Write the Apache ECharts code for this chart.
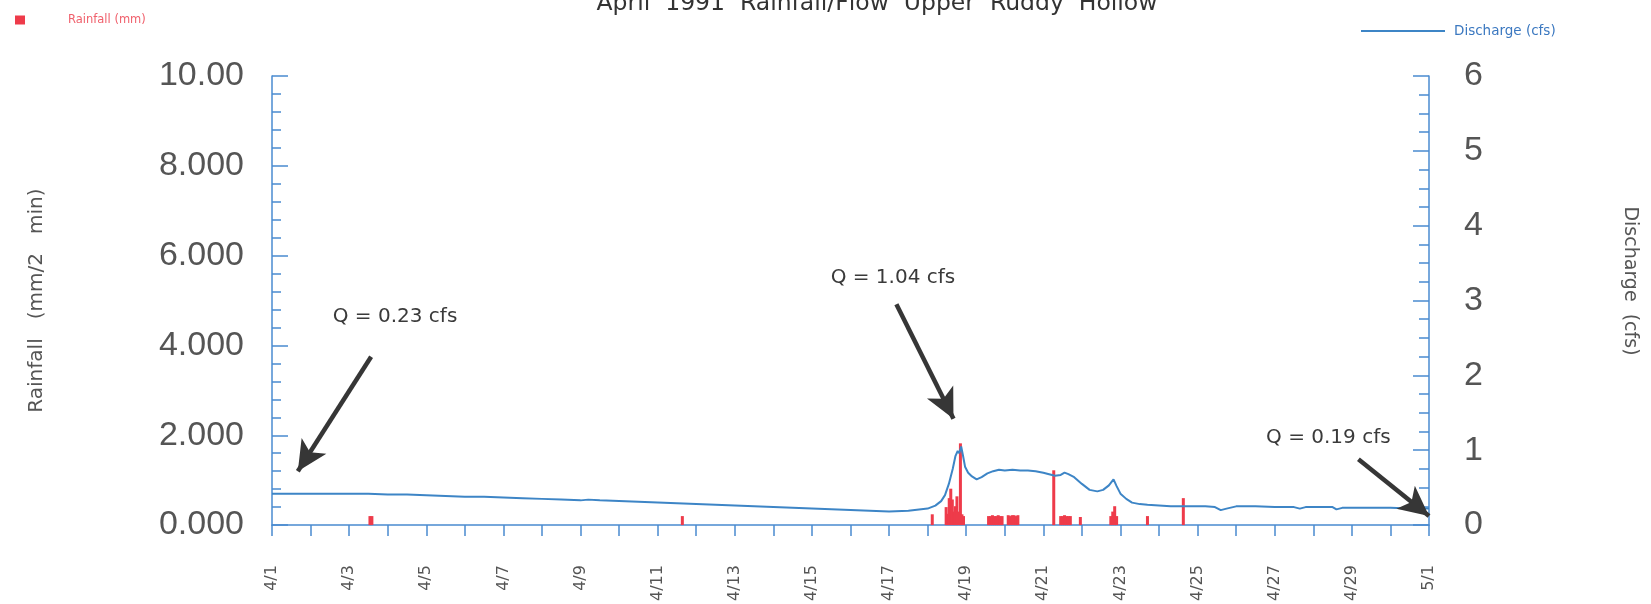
<!DOCTYPE html>
<html>
<head>
<meta charset="utf-8">
<script src="https://cdn.jsdelivr.net/npm/echarts@6/dist/echarts.min.js"></script>
<style>html,body{margin:0;padding:0;background:#fff;}#chart{width:1651px;height:604px;}</style>
</head>
<body>
<div id="chart"></div>
<script>
// ---- data (days after 4/1 00:00) ----
const titleText = 'April  1991  Rainfall/Flow  Upper  Ruddy  Hollow';
const dateLabels = ['4/1','4/3','4/5','4/7','4/9','4/11','4/13','4/15','4/17','4/19','4/21','4/23','4/25','4/27','4/29','5/1'];

const dischargeDays = [0,0.5,1,1.5,2,2.5,3,3.5,4,4.5,5,5.5,6,6.5,7,7.5,8,8.2,8.5,9,9.5,10,10.5,11,11.5,12,12.5,13,13.5,14,14.5,15,15.5,16,16.5,17,17.2,17.35,17.45,17.55,17.65,17.72,17.78,17.82,17.87,17.92,17.97,18.05,18.15,18.27,18.4,18.55,18.7,18.85,19,19.2,19.4,19.6,19.8,20,20.15,20.3,20.45,20.55,20.65,20.8,21,21.2,21.4,21.55,21.7,21.82,21.9,22,22.15,22.3,22.5,22.7,23,23.3,23.6,23.9,24.2,24.45,24.6,24.75,25,25.5,26,26.5,26.65,26.8,27,27.5,27.6,27.75,28,28.5,29,29.5,30];
const dischargeCfs = [0.42,0.42,0.42,0.42,0.42,0.42,0.41,0.41,0.40,0.39,0.38,0.38,0.37,0.36,0.35,0.34,0.33,0.34,0.33,0.32,0.31,0.30,0.29,0.28,0.27,0.26,0.25,0.24,0.23,0.22,0.21,0.20,0.19,0.18,0.19,0.22,0.26,0.32,0.40,0.55,0.75,0.92,0.99,0.96,1.05,0.92,0.78,0.70,0.65,0.61,0.64,0.69,0.72,0.74,0.73,0.74,0.73,0.73,0.72,0.70,0.68,0.66,0.67,0.70,0.68,0.64,0.55,0.47,0.45,0.47,0.53,0.61,0.52,0.42,0.35,0.30,0.28,0.27,0.26,0.25,0.25,0.25,0.25,0.24,0.20,0.22,0.25,0.25,0.24,0.24,0.22,0.24,0.24,0.24,0.21,0.23,0.23,0.23,0.23,0.22,0.22];

const rainDays = [2.54,2.59,10.64,17.12,17.48,17.52,17.56,17.60,17.64,17.68,17.72,17.76,17.80,17.85,17.89,17.93,18.58,18.63,18.68,18.73,18.78,18.83,18.88,18.93,19.09,19.14,19.19,19.24,19.29,19.34,20.27,20.45,20.50,20.55,20.60,20.65,20.70,20.96,21.75,21.80,21.85,21.90,22.70,23.63];
const rainMm = [0.20,0.20,0.20,0.24,0.40,0.25,0.60,0.81,0.57,0.30,0.42,0.64,0.30,1.82,0.24,0.20,0.20,0.20,0.22,0.20,0.20,0.22,0.20,0.20,0.22,0.20,0.22,0.22,0.20,0.22,1.22,0.20,0.20,0.22,0.20,0.20,0.20,0.18,0.20,0.30,0.42,0.20,0.20,0.60];

const noteTexts = ['Q = 0.23 cfs','Q = 1.04 cfs','Q = 0.19 cfs'];
const noteTextAt = [[3.19,2.78],[16.1,3.31],[27.39,1.17]];
const noteArrowFrom = [[2.57,2.25],[16.19,2.95],[28.17,0.88]];
const noteArrowTo = [[0.67,0.72],[17.67,1.42],[30.0,0.12]];

// ---- chart ----
const blue = '#4a8bd0';
const chart = echarts.init(document.getElementById('chart'));
chart.setOption({
  animation: false,
  backgroundColor: '#ffffff',
  title: {
    text: titleText, left: 872, top: -13, textAlign: 'center',
    textStyle: {fontFamily: 'DejaVu Sans', fontSize: 23.5, fontWeight: 'normal', color: '#333'}
  },
  legend: [
    {data: ['Rainfall (mm)'], left: 10, top: 9, itemWidth: 10, itemHeight: 9, icon: 'rect',
     textStyle: {color: '#f0606c', fontSize: 11.5, fontFamily: 'DejaVu Sans', padding: [0,0,0,38]}},
    {data: ['Discharge (cfs)'], left: 1356, top: 19, itemWidth: 84, itemHeight: 2, icon: 'rect',
     textStyle: {color: '#3b78c0', fontSize: 13.5, fontFamily: 'DejaVu Sans', padding: [0,0,0,4]}}
  ],
  grid: {left: 272, right: 222, top: 76, bottom: 72},
  xAxis: {
    type: 'value', min: 0, max: 30, interval: 1,
    axisLine: {show: true, lineStyle: {color: blue, width: 1.5}},
    axisTick: {show: true, length: 11, lineStyle: {color: blue, width: 1.5}},
    splitLine: {show: false},
    axisLabel: {
      rotate: 90, margin: 40, fontSize: 16, fontFamily: 'DejaVu Sans', color: '#555',
      formatter: v => (Math.round(v) % 2 === 0 ? dateLabels[Math.round(v) / 2] : '')
    }
  },
  yAxis: [
    {
      type: 'value', min: 0, max: 10, interval: 2, position: 'left',
      name: 'Rainfall   (mm/2   min)', nameLocation: 'middle', nameRotate: 90, nameGap: 225,
      nameTextStyle: {fontSize: 20, fontFamily: 'DejaVu Sans', color: '#555'},
      axisLine: {show: true, lineStyle: {color: blue, width: 1.5}},
      axisTick: {show: true, inside: true, length: 16, lineStyle: {color: blue, width: 1.5}},
      minorTick: {show: true, splitNumber: 5, length: 9, lineStyle: {color: blue, width: 1.5}},
      splitLine: {show: false},
      axisLabel: {margin: 28, fontSize: 34, fontFamily: 'Liberation Sans', color: '#555',
        formatter: v => (v === 10 ? '10.00' : v.toFixed(3))}
    },
    {
      type: 'value', min: 0, max: 6, interval: 1, position: 'right',
      axisLine: {show: true, lineStyle: {color: blue, width: 1.5}},
      axisTick: {show: true, inside: true, length: 16, lineStyle: {color: blue, width: 1.5}},
      minorTick: {show: true, splitNumber: 4, length: 10, lineStyle: {color: blue, width: 1.5}},
      splitLine: {show: false},
      axisLabel: {margin: 35, fontSize: 34, fontFamily: 'Liberation Sans', color: '#555'}
    }
  ],
  graphic: [
    {type: 'text', x: 1630, y: 281, rotation: -Math.PI / 2,
     style: {text: 'Discharge  (cfs)', align: 'center', verticalAlign: 'middle',
             font: '19px "DejaVu Sans"', fill: '#555'}}
  ],
  series: [
    {
      name: 'Rainfall (mm)', type: 'bar', xAxisIndex: 0, yAxisIndex: 0,
      barWidth: 3, itemStyle: {color: '#ee3b4a'},
      data: rainDays.map((d, i) => [d, rainMm[i]])
    },
    {
      name: 'Discharge (cfs)', type: 'line', xAxisIndex: 0, yAxisIndex: 1,
      symbol: 'none', showSymbol: false,
      lineStyle: {color: '#3d85c6', width: 2}, itemStyle: {color: '#3d85c6'},
      data: dischargeDays.map((d, i) => [d, dischargeCfs[i]]),
      markLine: {
        silent: true, symbol: ['none', 'arrow'], symbolSize: [22, 30],
        lineStyle: {color: '#363636', width: 4.5, type: 'solid'},
        label: {show: false},
        data: noteArrowFrom.map((f, i) => [{coord: f}, {coord: noteArrowTo[i]}])
      },
      markPoint: {
        silent: true, symbol: 'rect', symbolSize: 1,
        itemStyle: {color: 'rgba(0,0,0,0)'},
        label: {show: true, position: 'inside', formatter: '{b}', color: '#3a3a3a',
                fontSize: 20, fontFamily: 'DejaVu Sans'},
        data: noteTexts.map((t, i) => ({name: t, coord: noteTextAt[i]}))
      }
    }
  ]
});
</script>
</body>
</html>
